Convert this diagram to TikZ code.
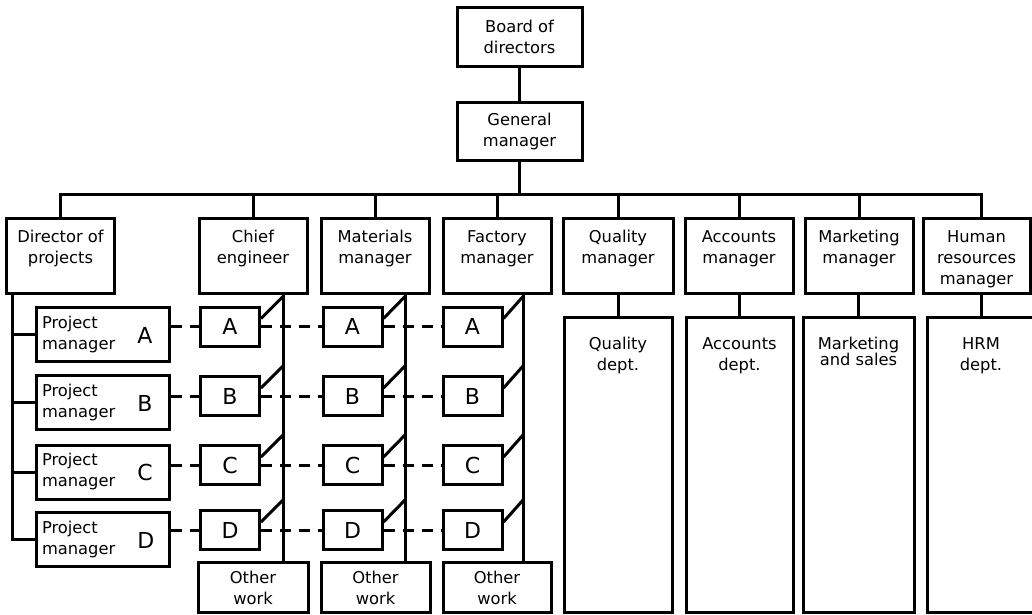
\documentclass[tikz,border=0pt]{standalone}
\usepackage{fontspec}
\setmainfont{DejaVu Sans}
\usetikzlibrary{calc}

% text set at the top of a box: height, top gap, lines
\newcommand{\toptext}[3]{\parbox[c][#1][t]{104pt}{\centering\vspace*{#2}#3}}
% project manager box text with its letter
\newcommand{\pmtext}[1]{\makebox[133pt][l]{\hspace{6pt}\begin{tabular}{@{}l@{}}Project\\manager\end{tabular}\hspace{22pt}\raisebox{-4.5pt}{\fontsize{22}{22}\selectfont #1}}}

\tikzset{
  org/.style={draw=black, line width=3pt, inner sep=0pt, minimum width=108pt},
  mgr/.style={org, minimum height=75pt},
  dept/.style={org, minimum height=295pt},
  other/.style={org, minimum height=50pt},
  letterbox/.style={org, minimum width=59pt, minimum height=39pt, font=\fontsize{22}{22}\selectfont},
  pmbox/.style={org, minimum width=133pt, minimum height=54pt},
  link/.style={line width=3pt},
  dash link/.style={line width=3pt, dash pattern=on 11pt off 8pt},
}

\begin{document}
\begin{tikzpicture}[x=1pt, y=-1pt, font=\fontsize{16.3}{21}\selectfont]
\useasboundingbox (0,0) rectangle (1032,614);

% top of the tree
\node[org, minimum width=125pt, minimum height=59pt, align=center] (board) at (519.5,36.5) {Board of\\directors};
\node[org, minimum width=125pt, minimum height=58pt, align=center] (gm) at (519.5,131) {General\\manager};

% managers
\node[mgr] (dir) at (60.5,255.5) {\toptext{75pt}{12.5pt}{Director of\\projects}};
\node[mgr] (ce) at (253,255.5) {\toptext{75pt}{12.5pt}{Chief\\engineer}};
\node[mgr] (mat) at (375,255.5) {\toptext{75pt}{12.5pt}{Materials\\manager}};
\node[mgr] (fac) at (497,255.5) {\toptext{75pt}{12.5pt}{Factory\\manager}};
\node[mgr, minimum width=110pt] (qm) at (618,255.5) {\toptext{75pt}{12.5pt}{Quality\\manager}};
\node[mgr] (acc) at (739,255.5) {\toptext{75pt}{12.5pt}{Accounts\\manager}};
\node[mgr] (mkt) at (859,255.5) {\toptext{75pt}{12.5pt}{Marketing\\manager}};
\node[mgr, minimum width=107pt] (hrm) at (976.5,255.5) {\toptext{75pt}{12.5pt}{Human\\resources\\manager}};

% departments
\node[dept] (qd) at (618,464.5) {\toptext{295pt}{20.5pt}{Quality\\dept.}};
\node[dept, minimum width=107pt] (ad) at (739.5,464.5) {\toptext{295pt}{20.5pt}{Accounts\\dept.}};
\node[dept, minimum width=111pt] (md) at (858.5,464.5) {\toptext{295pt}{20.5pt}{Marketing\\[-5pt]and sales}};
\node[dept] (hd) at (981,464.5) {\toptext{295pt}{20.5pt}{HRM\\dept.}};

% other work
\node[other, minimum width=110pt] (ow1) at (253,587) {\toptext{50pt}{9.5pt}{Other\\work}};
\node[other, minimum width=109pt] (ow2) at (375.5,587) {\toptext{50pt}{9.5pt}{Other\\work}};
\node[other] (ow3) at (497,587) {\toptext{50pt}{9.5pt}{Other\\work}};

% project managers and project boxes
\foreach \l/\y in {A/334.5, B/402.5, C/472, D/539.5}
  \node[pmbox] (pm\l) at (102.5,\y) {\pmtext{\l}};
\foreach \l/\y in {A/326.5, B/396, C/465, D/530} {
  \node[letterbox] (ce\l) at (230,\y) {\l};
  \node[letterbox] (mat\l) at (352.5,\y) {\l};
  \node[letterbox] (fac\l) at (472.5,\y) {\l};
}

% lines of command
\coordinate (bus) at (519.5,194);
\draw[link] (board) -- (gm);
\draw[link] (gm.south) -- (bus);
\draw[link] (dir.north) |- (hd.north |- bus) -- (hd.north |- hrm.north);
\foreach \n in {ce,mat,fac,qm,acc,mkt}
  \draw[link] (\n.north) -- (\n.north |- bus);
\foreach \m/\d in {qm/qd, acc/ad, mkt/md, hrm/hd}
  \draw[link] (\d.north |- \m.south) -- (\d.north);

\coordinate (dir line) at (12,293);
\draw[link] (dir line) |- (pmD.west);
\foreach \l in {A,B,C}
  \draw[link] (pm\l.west -| dir line) -- (pm\l.west);

\foreach \c/\o/\lx in {ce/ow1/283, mat/ow2/405, fac/ow3/523} {
  \coordinate (\c line) at (\lx,293);
  \draw[link] (\c line) -- (\c line |- \o.north);
  \foreach \l in {A,B,C,D}
    \draw[link] ([yshift=8pt]\c\l.east) -- ([yshift=30pt]\c\l.east -| \c line);
}

% project links
\foreach \l in {A,B,C,D} {
  \draw[dash link] (pm\l.east |- ce\l.west) -- (ce\l.west);
  \draw[dash link] (ce\l.east) -- (mat\l.west);
  \draw[dash link] (mat\l.east) -- (fac\l.west);
}
\end{tikzpicture}
\end{document}
